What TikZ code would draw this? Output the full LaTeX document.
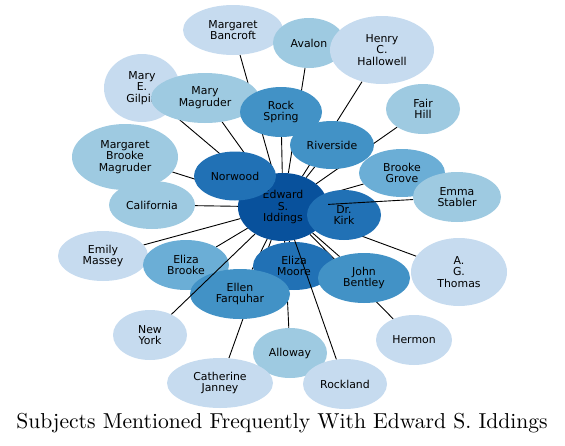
\documentclass[tikz,border=0pt]{standalone}
\usepackage{fontspec}
\newfontfamily\labelfont{DejaVu Sans}
\newfontfamily\titlefont{lmroman10-regular}[Extension=.otf]
\usepackage{tikz}
\usetikzlibrary{shapes.geometric, backgrounds}
\definecolor{blueA}{HTML}{C6DBEF}
\definecolor{blueB}{HTML}{9ECAE1}
\definecolor{blueC}{HTML}{6BAED6}
\definecolor{blueD}{HTML}{4292C6}
\definecolor{blueE}{HTML}{2171B5}
\definecolor{blueF}{HTML}{08519C}

\begin{document}
\begin{tikzpicture}[
  x=1pt, y=-1pt,
  subject/.style={ellipse, inner sep=0pt, align=center,
                  font=\labelfont\fontsize{10.9}{11.7}\selectfont},
  link/.style={line width=0.9pt, black},
]
\useasboundingbox (0,0) rectangle (565,445);

% centre of the graph
\node[subject, fill=blueF, minimum width=90, minimum height=68] (iddings) at (283,207) {Edward\\S.\\Iddings};

\node[subject, fill=blueA, minimum width=100, minimum height=50] (bancroft) at (233,30)  {Margaret\\Bancroft};
\node[subject, fill=blueB, minimum width=72,  minimum height=50] (avalon)   at (309,43)  {Avalon};
\node[subject, fill=blueA, minimum width=104, minimum height=68] (hallowell) at (382,50) {Henry\\C.\\Hallowell};
\node[subject, fill=blueA, minimum width=76,  minimum height=68] (gilpin)   at (142,88)  {Mary\\E.\\Gilpin};
\node[subject, fill=blueB, minimum width=108, minimum height=50] (mmagruder) at (205,98) {Mary\\Magruder};
\node[subject, fill=blueD, minimum width=82,  minimum height=50] (rockspring) at (281,112) {Rock\\Spring};
\node[subject, fill=blueB, minimum width=74,  minimum height=50] (fairhill) at (423,109) {Fair\\Hill};
\node[subject, fill=blueD, minimum width=84,  minimum height=48] (riverside) at (332,145) {Riverside};
\node[subject, fill=blueB, minimum width=106, minimum height=66] (mbmagruder) at (125,157) {Margaret\\Brooke\\Magruder};
\node[subject, fill=blueB, minimum width=86,  minimum height=48] (california) at (152,205) {California};
\node[subject, fill=blueE, minimum width=82,  minimum height=49] (norwood)  at (235,176) {Norwood};
\node[subject, fill=blueC, minimum width=86,  minimum height=48] (brookegrove) at (402,173) {Brooke\\Grove};
\node[subject, fill=blueB, minimum width=88,  minimum height=50] (stabler)  at (457,197) {Emma\\Stabler};
\node[subject, fill=blueE, minimum width=74,  minimum height=50] (kirk)     at (344,215) {Dr.\\Kirk};
\node[subject, fill=blueA, minimum width=90,  minimum height=50] (massey)   at (103,256) {Emily\\Massey};
\node[subject, fill=blueC, minimum width=86,  minimum height=50] (elizabrooke) at (186,265) {Eliza\\Brooke};
\node[subject, fill=blueE, minimum width=82,  minimum height=48] (elizamoore) at (294,266) {Eliza\\Moore};
\node[subject, fill=blueD, minimum width=100, minimum height=50] (farquhar) at (240,294) {Ellen\\Farquhar};
\node[subject, fill=blueD, minimum width=92,  minimum height=50] (bentley)  at (364,278) {John\\Bentley};
\node[subject, fill=blueA, minimum width=96,  minimum height=68] (thomas)   at (459,272) {A.\\G.\\Thomas};
\node[subject, fill=blueA, minimum width=74,  minimum height=50] (newyork)  at (150,335) {New\\York};
\node[subject, fill=blueA, minimum width=76,  minimum height=50] (hermon)   at (414,340) {Hermon};
\node[subject, fill=blueB, minimum width=74,  minimum height=50] (alloway)  at (290,353) {Alloway};
\node[subject, fill=blueA, minimum width=106, minimum height=50] (janney)   at (220,383) {Catherine\\Janney};
\node[subject, fill=blueA, minimum width=84,  minimum height=50] (rockland) at (345,384) {Rockland};

% edges behind the nodes
\begin{scope}[on background layer]
\foreach \other in {bancroft, avalon, hallowell, gilpin, mmagruder, rockspring,
                    fairhill, riverside, mbmagruder, california, norwood,
                    brookegrove, kirk, massey, elizabrooke, elizamoore,
                    farquhar, bentley, thomas, hermon, alloway, janney}
  \draw[link] (iddings) -- (\other);
\end{scope}

% edges drawn over other nodes
\draw[link] (iddings) -- (stabler);
\draw[link] (iddings) -- (newyork);
\draw[link] (iddings) -- (rockland);

\node[font=\titlefont\fontsize{21.6}{25}\selectfont] (title) at (282,423) {Subjects Mentioned Frequently With Edward S. Iddings};

\end{tikzpicture}
\end{document}
